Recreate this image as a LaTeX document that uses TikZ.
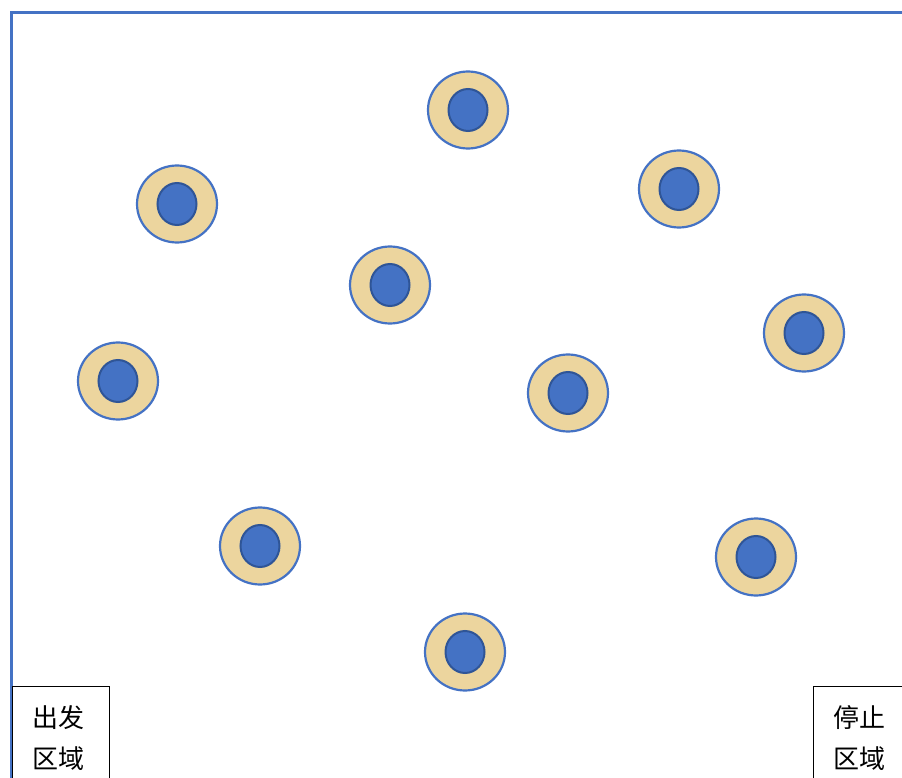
\documentclass[tikz,border=0pt]{standalone}
\usepackage{fontspec}
\usepackage{tikz}
\usetikzlibrary{positioning,shapes.geometric}
\newfontfamily\cjk{Noto Sans CJK SC}
\definecolor{rimblue}{RGB}{68,114,196}
\definecolor{coreblue}{RGB}{47,85,151}
\definecolor{tan}{RGB}{236,213,158}

\begin{document}
\begin{tikzpicture}[
  x=1pt, y=-1pt,
  wall/.style  = {draw=rimblue, line width=3pt},
  ring/.style  = {ellipse, draw=rimblue, fill=tan, line width=2.2pt,
                  minimum width=80pt, minimum height=77pt, inner sep=0pt},
  core/.style  = {ellipse, draw=coreblue, fill=rimblue, line width=2pt,
                  minimum width=39pt, minimum height=42pt, inner sep=0pt},
  zone/.style  = {draw=black, line width=0.8pt, anchor=north west, align=left,
                  font=\cjk\fontsize{26pt}{41pt}\selectfont,
                  minimum width=97pt, text width=57pt,
                  inner xsep=20pt, inner ysep=19pt},
]
\useasboundingbox (0,0) rectangle (902,778);

% ================= field border ========================================
\draw[wall] (11,778) -- (11,13) -- (902,13);

% ================= obstacles ===========================================
\foreach \nm/\x/\y in {a/468/110, b/177/204, c/679/189, d/390/285, e/804/333,
                       f/118/381, g/568/393, h/260/546, i/756/557, j/465/652} {
  \node[ring] (ring-\nm) at (\x,\y) {};
  \node[core] (core-\nm) at (ring-\nm.center) {};
}

% ================= start / stop zones ==================================
\node[zone] (start) at (12,686)  {出发\\区域};
\node[zone] (stop)  at (813,686) {停止\\区域};

\end{tikzpicture}
\end{document}
